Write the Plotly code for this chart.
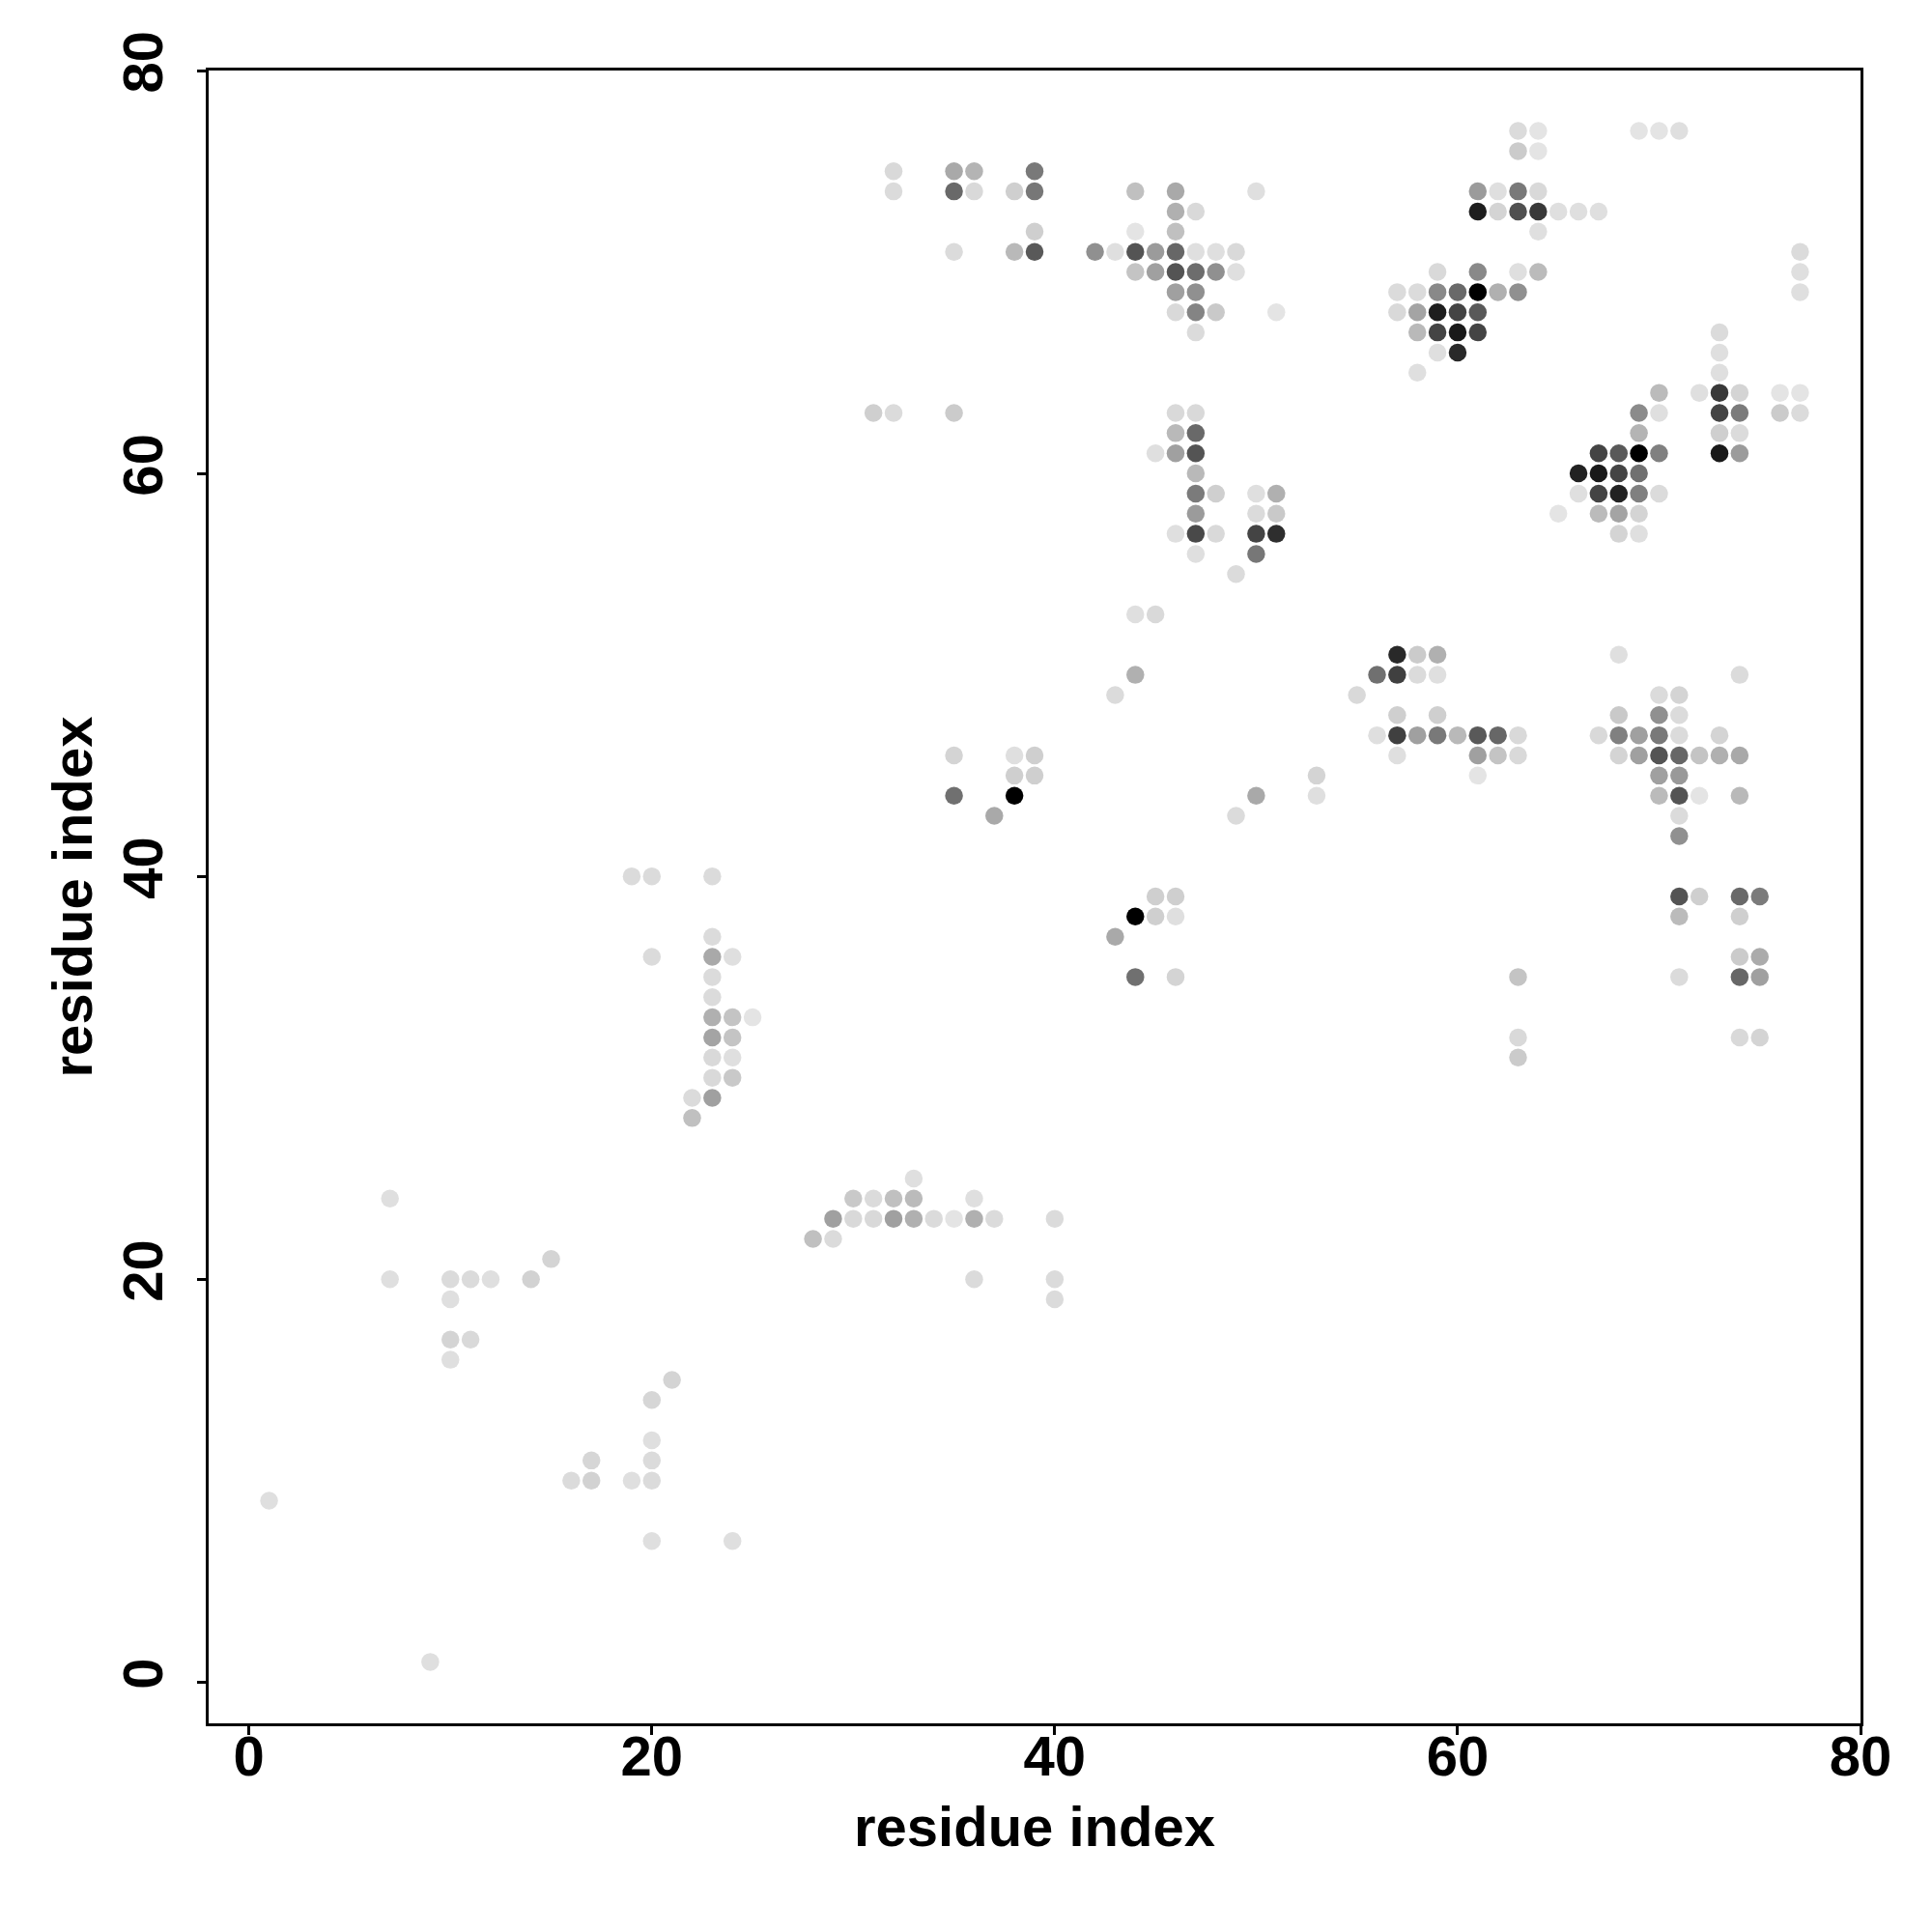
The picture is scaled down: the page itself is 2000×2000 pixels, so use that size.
import plotly.graph_objects as go

# contact map: residue i (x), residue j (y), contact strength (0 = faint, 1 = strongest)
residue_i = [
    7, 15, 7, 10, 11, 12, 14, 10, 10, 11, 10, 21, 20, 20, 17, 20, 16, 17, 19, 20, 1, 20, 24, 9,
    33, 30, 31, 32, 33, 36, 29, 30, 31, 32, 33, 34, 35, 36, 37, 40, 28, 29, 36, 40, 40,
    19, 20, 23, 23, 20, 23, 24, 23, 23, 23, 24, 25, 23, 24, 23, 24, 23, 24, 22, 23, 22,
    49, 44, 45, 44, 43, 35, 38, 39, 38, 39, 35, 38, 37, 53, 53, 50, 49, 45, 46, 44, 45, 46, 43, 44, 46,
    57, 58, 59, 68, 56, 57, 58, 59, 74, 55, 70, 71, 57, 59, 68, 70, 71,
    56, 57, 58, 59, 60, 61, 62, 63, 67, 68, 69, 70, 71, 73,
    57, 61, 62, 63, 68, 69, 70, 71, 72, 73, 74,
    61, 70, 71, 70, 71, 72, 74, 71, 71, 71, 72, 74, 75, 71, 74, 74, 75, 63, 71, 74, 75, 63, 74, 75, 63,
    46, 47, 46, 47, 45, 46, 47, 47, 47, 48, 50, 51, 47, 50, 51, 46, 47, 48, 50, 51, 47, 50,
    32, 35, 36, 39, 32, 35, 36, 38, 39, 44, 46, 50, 46, 47, 39, 44, 46,
    35, 38, 39, 42, 43, 44, 45, 46, 47, 48, 49, 44, 45, 46, 47, 48, 49, 46, 47, 46, 47, 48, 51, 47,
    31, 32, 35,
    59, 60, 73, 58, 73, 70, 72, 73, 74, 76, 77, 69, 70, 73, 74, 76, 77, 69, 73, 74,
    67, 68, 69, 70, 73, 74, 66, 67, 68, 69, 66, 67, 68, 69, 70, 65, 67, 68, 69, 68, 69,
    63, 64, 69, 70, 71, 63, 64, 61, 62, 63, 64, 61, 62, 63, 64, 65, 66, 67, 64, 77,
    59, 61, 63, 64, 77, 57, 58, 59, 60, 61, 62, 63, 77, 57, 58, 59, 60, 61, 58, 59, 60, 61, 73,
]
residue_j = [
    24, 21, 20, 20, 20, 20, 20, 19, 17, 17, 16, 15, 14, 12, 11, 11, 10, 10, 10, 10, 9, 7, 7, 1,
    25, 24, 24, 24, 24, 24, 23, 23, 23, 23, 23, 23, 23, 23, 23, 23, 22, 22, 20, 20, 19,
    40, 40, 40, 37, 36, 36, 36, 35, 34, 33, 33, 33, 32, 32, 31, 31, 30, 30, 29, 29, 28,
    55, 53, 53, 50, 49, 46, 46, 46, 45, 45, 44, 44, 43, 45, 44, 44, 43, 39, 39, 38, 38, 38, 37, 35, 35,
    51, 51, 51, 51, 50, 50, 50, 50, 50, 49, 49, 49, 48, 48, 48, 48, 48,
    47, 47, 47, 47, 47, 47, 47, 47, 47, 47, 47, 47, 47, 47,
    46, 46, 46, 46, 46, 46, 46, 46, 46, 46, 46,
    45, 45, 45, 44, 44, 44, 44, 43, 42, 39, 39, 39, 39, 38, 38, 36, 36, 35, 35, 35, 35, 32, 32, 32, 31,
    63, 63, 62, 62, 61, 61, 61, 60, 59, 59, 59, 59, 58, 58, 58, 57, 57, 57, 57, 57, 56, 56,
    75, 75, 75, 75, 74, 74, 74, 74, 74, 74, 74, 74, 73, 73, 72, 72, 72,
    71, 71, 71, 71, 71, 71, 71, 71, 71, 71, 71, 70, 70, 70, 70, 70, 70, 69, 69, 68, 68, 68, 68, 67,
    63, 63, 63,
    66, 66, 66, 65, 65, 64, 64, 64, 64, 64, 64, 63, 63, 63, 63, 63, 63, 62, 62, 62,
    61, 61, 61, 61, 61, 61, 60, 60, 60, 60, 59, 59, 59, 59, 59, 58, 58, 58, 58, 57, 57,
    77, 77, 77, 77, 77, 76, 76, 74, 74, 74, 74, 73, 73, 73, 73, 73, 73, 73, 72, 71,
    70, 70, 70, 70, 70, 69, 69, 69, 69, 69, 69, 69, 69, 68, 68, 68, 68, 68, 67, 67, 67, 67, 67,
]
strength = [
    0.02, 0.07, 0.02, 0.04, 0.04, 0.02, 0.08, 0.02, 0.07, 0.05, 0.02, 0.07, 0.06, 0.02, 0.06, 0.04, 0.04, 0.08, 0.02, 0.04, 0.02, 0.02, 0.02, 0.02,
    0.02, 0.12, 0.04, 0.16, 0.18, 0.02, 0.30, 0.05, 0.05, 0.30, 0.23, 0.04, 0.00, 0.23, 0.04, 0.04, 0.16, 0.04, 0.04, 0.04, 0.04,
    0.04, 0.04, 0.04, 0.04, 0.04, 0.26, 0.02, 0.04, 0.04, 0.23, 0.14, 0.00, 0.28, 0.14, 0.05, 0.02, 0.05, 0.12, 0.04, 0.30, 0.16,
    0.04, 0.02, 0.05, 0.23, 0.04, 0.07, 0.02, 0.09, 0.09, 0.09, 0.51, 1.00, 0.26, 0.07, 0.02, 0.26, 0.04, 0.09, 0.09, 1.00, 0.09, 0.02, 0.26, 0.51, 0.07,
    0.82, 0.11, 0.23, 0.02, 0.51, 0.72, 0.04, 0.02, 0.04, 0.05, 0.04, 0.07, 0.09, 0.09, 0.12, 0.37, 0.04,
    0.02, 0.72, 0.30, 0.47, 0.19, 0.61, 0.55, 0.05, 0.05, 0.44, 0.30, 0.47, 0.04, 0.07,
    0.02, 0.30, 0.14, 0.05, 0.07, 0.30, 0.63, 0.55, 0.14, 0.23, 0.26,
    0.00, 0.30, 0.33, 0.18, 0.63, 0.00, 0.19, 0.04, 0.37, 0.63, 0.09, 0.54, 0.46, 0.18, 0.09, 0.11, 0.25, 0.14, 0.04, 0.55, 0.30, 0.05, 0.05, 0.07, 0.11,
    0.05, 0.05, 0.19, 0.54, 0.02, 0.30, 0.63, 0.19, 0.46, 0.09, 0.02, 0.23, 0.32, 0.04, 0.12, 0.02, 0.68, 0.05, 0.70, 0.80, 0.02, 0.48,
    0.05, 0.26, 0.21, 0.47, 0.04, 0.54, 0.05, 0.09, 0.48, 0.16, 0.26, 0.02, 0.23, 0.05, 0.09, 0.00, 0.16,
    0.04, 0.19, 0.61, 0.37, 0.02, 0.63, 0.32, 0.55, 0.02, 0.02, 0.05, 0.14, 0.30, 0.63, 0.52, 0.37, 0.02, 0.30, 0.37, 0.05, 0.42, 0.12, 0.00, 0.04,
    0.09, 0.04, 0.11,
    0.02, 0.82, 0.02, 0.02, 0.02, 0.18, 0.02, 0.75, 0.07, 0.00, 0.00, 0.39, 0.02, 0.70, 0.46, 0.11, 0.04, 0.21, 0.09, 0.04,
    0.70, 0.61, 1.00, 0.44, 0.89, 0.32, 0.85, 0.89, 0.70, 0.51, 0.02, 0.70, 0.85, 0.44, 0.04, 0.00, 0.18, 0.28, 0.07, 0.07, 0.02,
    0.04, 0.00, 0.00, 0.00, 0.02, 0.11, 0.00, 0.32, 0.02, 0.47, 0.05, 0.87, 0.07, 0.65, 0.75, 0.02, 0.02, 0.02, 0.02, 0.04,
    0.05, 0.40, 0.02, 0.18, 0.02, 0.04, 0.04, 0.40, 0.54, 1.00, 0.23, 0.37, 0.02, 0.05, 0.28, 0.87, 0.70, 0.61, 0.19, 0.70, 0.89, 0.70, 0.04,
]

tick_values = [0, 20, 40, 60, 80]
axis_title = "residue index"

font_family = "Liberation Sans, Arial, Helvetica, sans-serif"

fig = go.Figure(
    go.Scatter(
        x=residue_i,
        y=residue_j,
        mode="markers",
        marker=dict(
            size=18.5,
            color=strength,
            colorscale=[[0, "rgb(228,228,228)"], [1, "rgb(0,0,0)"]],
            cmin=0,
            cmax=1,
            line=dict(width=0),
        ),
        showlegend=False,
    )
)

axis_common = dict(
    tickvals=tick_values,
    ticks="outside",
    ticklen=9,
    tickwidth=3,
    tickcolor="black",
    showline=True,
    linecolor="black",
    linewidth=3,
    mirror=True,
    showgrid=False,
    zeroline=False,
    tickfont=dict(family=font_family, size=58, color="black", weight="bold"),
    title=dict(text=axis_title, font=dict(family=font_family, size=58, color="black", weight="bold")),
)

fig.update_layout(
    width=2000,
    height=2000,
    paper_bgcolor="white",
    plot_bgcolor="white",
    margin=dict(l=208, r=82, t=65, b=224, autoexpand=False),
    xaxis=dict(range=[-2, 80], ticklabelstandoff=-28, **axis_common),
    yaxis=dict(range=[-2.05, 80], tickangle=-90, ticklabelstandoff=13, **axis_common),
)
fig.update_xaxes(title_standoff=22)
fig.update_yaxes(title_standoff=1)

fig.write_html("out.html")
